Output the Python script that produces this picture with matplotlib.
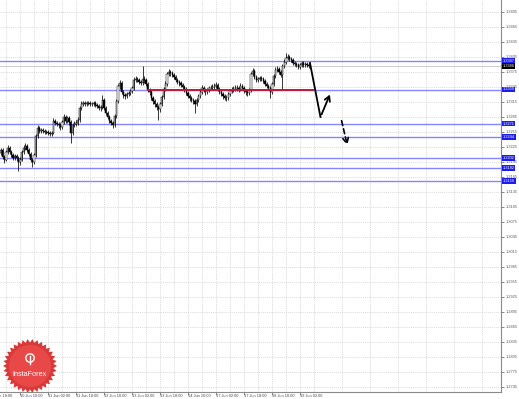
import matplotlib
matplotlib.use('Agg')
import matplotlib.pyplot as plt
import numpy as np
import pandas as pd
from matplotlib.patches import Polygon, Circle

plt.rcParams['font.family'] = ['Liberation Sans', 'DejaVu Sans']

# H1 bars, first visible bar is 7 Jun 23:00, last one 19 Jun 07:00
first_open = 1.3212
closes = [
    1.3218, 1.3204, 1.3198, 1.3214, 1.3222, 1.3214, 1.3208, 1.3202, 1.3206, 1.3202,
    1.3194, 1.3198, 1.3214, 1.3222, 1.3226, 1.3218, 1.3210, 1.3198, 1.3194, 1.3208,
    1.3246, 1.3262, 1.3256, 1.3258, 1.3256, 1.3254, 1.3254, 1.3252, 1.3250, 1.3252,
    1.3276, 1.3272, 1.3270, 1.3268, 1.3264, 1.3274, 1.3284, 1.3276, 1.3282, 1.3274,
    1.3252, 1.3268, 1.3270, 1.3272, 1.3278, 1.3302, 1.3310, 1.3312, 1.3310, 1.3312,
    1.3312, 1.3310, 1.3310, 1.3312, 1.3308, 1.3306, 1.3302, 1.3304, 1.3318, 1.3302,
    1.3292, 1.3284, 1.3276, 1.3272, 1.3268, 1.3286, 1.3316, 1.3346, 1.3352, 1.3334,
    1.3328, 1.3326, 1.3330, 1.3332, 1.3336, 1.3342, 1.3358, 1.3360, 1.3358, 1.3354,
    1.3352, 1.3360, 1.3358, 1.3350, 1.3338, 1.3334, 1.3322, 1.3316, 1.3310, 1.3304,
    1.3300, 1.3310, 1.3324, 1.3340, 1.3350, 1.3370, 1.3374, 1.3372, 1.3368, 1.3364,
    1.3358, 1.3354, 1.3352, 1.3348, 1.3344, 1.3340, 1.3332, 1.3326, 1.3322, 1.3318,
    1.3316, 1.3310, 1.3318, 1.3326, 1.3334, 1.3342, 1.3338, 1.3334, 1.3338, 1.3342,
    1.3342, 1.3344, 1.3346, 1.3348, 1.3340, 1.3334, 1.3330, 1.3326, 1.3322, 1.3322,
    1.3330, 1.3336, 1.3338, 1.3340, 1.3342, 1.3342, 1.3340, 1.3346, 1.3342, 1.3336,
    1.3334, 1.3332, 1.3338, 1.3370, 1.3376, 1.3364, 1.3358, 1.3360, 1.3362, 1.3360,
    1.3356, 1.3350, 1.3346, 1.3342, 1.3334, 1.3350, 1.3366, 1.3378, 1.3380, 1.3374,
    1.3368, 1.3386, 1.3394, 1.3402, 1.3404, 1.3400, 1.3398, 1.3392, 1.3390, 1.3388,
    1.3384, 1.3388, 1.3392, 1.3388, 1.3390, 1.3388, 1.3386,
]
highs = [
    1.3222, 1.3222, 1.3208, 1.3218, 1.3228, 1.3226, 1.3218, 1.3212, 1.3210, 1.3210,
    1.3206, 1.3204, 1.3218, 1.3228, 1.3232, 1.3230, 1.3222, 1.3214, 1.3202, 1.3212,
    1.3250, 1.3268, 1.3266, 1.3262, 1.3262, 1.3260, 1.3258, 1.3258, 1.3256, 1.3256,
    1.3282, 1.3280, 1.3276, 1.3274, 1.3272, 1.3278, 1.3290, 1.3288, 1.3286, 1.3286,
    1.3278, 1.3272, 1.3276, 1.3278, 1.3284, 1.3306, 1.3316, 1.3316, 1.3316, 1.3316,
    1.3316, 1.3316, 1.3314, 1.3316, 1.3316, 1.3312, 1.3310, 1.3308, 1.3328, 1.3322,
    1.3306, 1.3296, 1.3288, 1.3280, 1.3276, 1.3290, 1.3320, 1.3350, 1.3358, 1.3356,
    1.3338, 1.3332, 1.3334, 1.3336, 1.3340, 1.3346, 1.3364, 1.3366, 1.3364, 1.3362,
    1.3358, 1.3386, 1.3366, 1.3362, 1.3354, 1.3342, 1.3338, 1.3326, 1.3320, 1.3314,
    1.3308, 1.3314, 1.3328, 1.3344, 1.3356, 1.3374, 1.3380, 1.3378, 1.3376, 1.3372,
    1.3368, 1.3362, 1.3358, 1.3356, 1.3352, 1.3348, 1.3344, 1.3336, 1.3330, 1.3326,
    1.3322, 1.3320, 1.3322, 1.3330, 1.3338, 1.3348, 1.3346, 1.3342, 1.3342, 1.3346,
    1.3348, 1.3350, 1.3352, 1.3354, 1.3352, 1.3344, 1.3338, 1.3334, 1.3330, 1.3328,
    1.3334, 1.3340, 1.3344, 1.3346, 1.3348, 1.3348, 1.3346, 1.3352, 1.3350, 1.3346,
    1.3340, 1.3338, 1.3342, 1.3374, 1.3382, 1.3380, 1.3368, 1.3364, 1.3366, 1.3366,
    1.3364, 1.3360, 1.3354, 1.3350, 1.3346, 1.3354, 1.3370, 1.3384, 1.3386, 1.3384,
    1.3378, 1.3390, 1.3400, 1.3412, 1.3410, 1.3408, 1.3404, 1.3402, 1.3396, 1.3394,
    1.3392, 1.3392, 1.3396, 1.3396, 1.3394, 1.3394, 1.3392,
]
lows = [
    1.3208, 1.3200, 1.3192, 1.3196, 1.3210, 1.3210, 1.3204, 1.3198, 1.3198, 1.3196,
    1.3176, 1.3188, 1.3196, 1.3210, 1.3218, 1.3214, 1.3206, 1.3194, 1.3184, 1.3190,
    1.3204, 1.3242, 1.3252, 1.3252, 1.3252, 1.3250, 1.3250, 1.3248, 1.3246, 1.3246,
    1.3250, 1.3268, 1.3266, 1.3262, 1.3258, 1.3260, 1.3270, 1.3272, 1.3272, 1.3268,
    1.3232, 1.3248, 1.3264, 1.3266, 1.3268, 1.3274, 1.3298, 1.3306, 1.3306, 1.3306,
    1.3308, 1.3306, 1.3306, 1.3306, 1.3304, 1.3302, 1.3298, 1.3296, 1.3300, 1.3298,
    1.3288, 1.3280, 1.3272, 1.3268, 1.3262, 1.3264, 1.3282, 1.3312, 1.3340, 1.3330,
    1.3322, 1.3320, 1.3322, 1.3326, 1.3328, 1.3332, 1.3338, 1.3354, 1.3354, 1.3350,
    1.3348, 1.3348, 1.3352, 1.3346, 1.3334, 1.3328, 1.3318, 1.3310, 1.3304, 1.3298,
    1.3278, 1.3294, 1.3306, 1.3320, 1.3336, 1.3346, 1.3366, 1.3366, 1.3364, 1.3360,
    1.3354, 1.3350, 1.3346, 1.3344, 1.3340, 1.3334, 1.3328, 1.3322, 1.3316, 1.3314,
    1.3310, 1.3292, 1.3306, 1.3314, 1.3322, 1.3330, 1.3334, 1.3328, 1.3330, 1.3334,
    1.3338, 1.3338, 1.3340, 1.3342, 1.3336, 1.3330, 1.3326, 1.3320, 1.3318, 1.3316,
    1.3318, 1.3326, 1.3332, 1.3334, 1.3336, 1.3336, 1.3334, 1.3336, 1.3338, 1.3332,
    1.3328, 1.3326, 1.3328, 1.3334, 1.3366, 1.3360, 1.3354, 1.3354, 1.3356, 1.3356,
    1.3352, 1.3346, 1.3342, 1.3338, 1.3322, 1.3330, 1.3346, 1.3362, 1.3374, 1.3370,
    1.3364, 1.3338, 1.3382, 1.3390, 1.3398, 1.3396, 1.3394, 1.3388, 1.3386, 1.3384,
    1.3380, 1.3380, 1.3384, 1.3384, 1.3384, 1.3384, 1.3382,
]

# horizontal levels drawn on the chart
levels = [1.3397, 1.3339, 1.3271, 1.3244, 1.3202, 1.3182, 1.3156]
red_level = 1.3338
bid_price = 1.3386

# hand drawn forecast arrows (bar index, price)
arrow1_x = [176.7, 182.7, 188.7]
arrow1_y = [1.3392, 1.3284, 1.3334]
arrow2_x = [194.4, 198.4]
arrow2_y = [1.3282, 1.3222]

price_ticks = np.round(np.arange(1.2745, 1.3500, 0.0030), 4)

# time axis: trading hours only, labels every 16 bars starting 7 Jun 18:00
hours = pd.date_range('2019-06-07 18:00', '2019-06-20 00:00', freq='h')
hours = hours[hours.weekday < 5]
lbl_times = hours[::16][:12]
lbl_pos = np.arange(len(lbl_times)) * 16 - 5
lbl_text = [f'{t.day} Jun {t:%H:%M}' for t in lbl_times]

opens = [first_open] + closes[:-1]
x = np.arange(len(closes))
fs = 2.8

fig = plt.figure(figsize=(5.19, 3.99), dpi=100)
ax = fig.add_axes([0, 7 / 399, 501 / 519, 392 / 399])
ax.set_xlim(-0.43, 285.86)
ax.set_ylim(1.2734, 1.3518)

# grid
ax.set_yticks(price_ticks)
ax.set_yticklabels([f'{p:.4f}' for p in price_ticks])
ax.set_xticks(lbl_pos[1:])
ax.set_xticklabels([])
ax.set_xticks(np.arange(3, 290, 16), minor=True)
ax.grid(True, which='both', color='#cdcdcd', linestyle=(0, (1.5, 1.5)), linewidth=0.5)
ax.set_axisbelow(True)

ax.yaxis.tick_right()
ax.tick_params(axis='y', labelsize=fs, length=2, width=0.5, pad=1.5, colors='#555555')
ax.tick_params(axis='x', which='major', length=2, width=0.5, colors='#555555')
ax.tick_params(axis='x', which='minor', length=0)
for s in ['left', 'top']:
    ax.spines[s].set_visible(False)
for s in ['right', 'bottom']:
    ax.spines[s].set_color('#8a8a8a')
    ax.spines[s].set_linewidth(0.8)

for p, t in zip(lbl_pos, lbl_text):
    ax.text(p, -0.005, t, transform=ax.get_xaxis_transform(), ha='left', va='top',
            fontsize=fs, color='#444444', clip_on=False)

# levels
for lv in levels:
    ax.axhline(lv, color='#8585ff', lw=1.0, zorder=2)
ax.axhline(bid_price, color='#cfcfcf', lw=0.8, zorder=2)
ax.hlines(red_level, 83.6, 179, color='#c4163a', lw=1.4, zorder=5)

# candles
ax.vlines(x, lows, highs, color='black', lw=0.55, zorder=3)
body = np.array(closes) - np.array(opens)
up = body >= 0
ax.bar(x[up], body[up], bottom=np.array(opens)[up], width=0.6, color='white',
       edgecolor='black', lw=0.35, zorder=4)
ax.bar(x[~up], body[~up], bottom=np.array(opens)[~up], width=0.6, color='black',
       edgecolor='black', lw=0.35, zorder=4)

# forecast arrows
ax.plot(arrow1_x[:2], arrow1_y[:2], color='black', lw=1.3, zorder=6)
ax.annotate('', xy=(arrow1_x[2], arrow1_y[2]), xytext=(arrow1_x[1], arrow1_y[1]),
            arrowprops=dict(arrowstyle='->,head_length=0.35,head_width=0.2', color='black', lw=1.3),
            zorder=6)
ax.annotate('', xy=(arrow2_x[1], arrow2_y[1]), xytext=(arrow2_x[0], arrow2_y[0]),
            arrowprops=dict(arrowstyle='->,head_length=0.4,head_width=0.2', color='black', lw=1.2,
                            linestyle=(0, (3, 2))), zorder=6)

# price labels on the right scale
for lv in levels:
    ax.text(1.003, lv, f'{lv:.4f}', transform=ax.get_yaxis_transform(), fontsize=fs,
            color='white', va='center', ha='left', clip_on=False, zorder=10,
            bbox=dict(boxstyle='square,pad=0.25', fc='#1c1cf0', ec='none'))
ax.text(1.003, bid_price, f'{bid_price:.4f}', transform=ax.get_yaxis_transform(), fontsize=fs,
        color='white', va='center', ha='left', clip_on=False, zorder=10,
        bbox=dict(boxstyle='square,pad=0.25', fc='black', ec='none'))

# InstaForex badge, pixel coordinates
ov = fig.add_axes(ax.get_position(), facecolor='none')
ov.set_xlim(0, 501)
ov.set_ylim(392, 0)
ov.axis('off')
n = 34
ang = np.linspace(0, 2 * np.pi, 2 * n, endpoint=False)
rad = np.where(np.arange(2 * n) % 2 == 0, 27, 23.5)
star = Polygon(np.c_[30 + rad * np.cos(ang), 366 + rad * np.sin(ang)], closed=True,
               fc='#d83a3a', ec='none', zorder=20)
ov.add_patch(star)
ov.add_patch(Circle((30, 366), 21, fc='#e84848', ec='none', zorder=21))
ov.add_patch(Circle((30, 358), 4.2, fc='none', ec='white', lw=1.0, zorder=22))
ov.plot([30, 30], [356, 364], color='white', lw=1.0, zorder=22)
ov.text(30, 375, 'InstaForex', color='white', fontsize=5.2, ha='center', va='center', zorder=22)

fig.savefig('out.png', dpi=100)
